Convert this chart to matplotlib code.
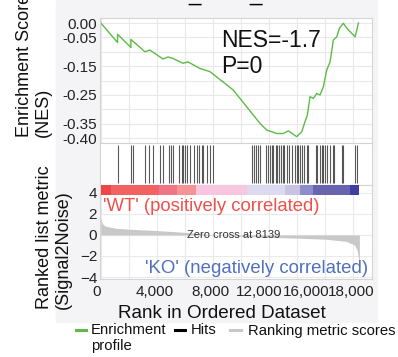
import matplotlib
matplotlib.use('Agg')
import matplotlib.pyplot as plt
import matplotlib.transforms as mtransforms
from matplotlib.lines import Line2D
from matplotlib.patches import Rectangle

plt.rcParams['font.family'] = ['Liberation Sans', 'DejaVu Sans']

# running enrichment score
es_rank = [0, 1193, 1193, 2143, 2143, 2800, 3143, 3500, 4430, 4800, 5143, 5857,
           6214, 7071, 7786, 9450, 11357, 11836, 12550, 13021, 13380, 13979,
           14336, 14571, 14736, 14929, 15164, 15407, 15643, 15879, 16121, 16357,
           16593, 16836, 17021, 17307, 17550, 18143, 18264, 18380]
es_value = [0.0, -0.068, -0.039, -0.085, -0.057, -0.085, -0.100, -0.094, -0.125,
            -0.118, -0.123, -0.140, -0.135, -0.158, -0.169, -0.233, -0.349, -0.372,
            -0.384, -0.384, -0.375, -0.395, -0.378, -0.343, -0.320, -0.256, -0.262,
            -0.245, -0.250, -0.222, -0.163, -0.135, -0.059, -0.048, -0.018, -0.001,
            -0.018, -0.048, -0.025, 0.0]

# positions of the gene set members in the ranked list
hit_ranks = [1193, 2121, 2264, 3143, 3429, 3693, 4214, 4407, 4879, 5000, 5121,
             5593, 5764, 5879, 6000, 6164, 6357, 6664, 6836, 7021, 7193, 7307,
             7550, 7786, 7979, 10807, 10929, 11050, 11236, 11357, 11786, 11907,
             12071, 12193, 12307, 12479, 12593, 12736, 12836, 12979, 13093, 13264,
             13450, 13621, 13857, 13979, 14093, 14214, 14336, 14521, 14693, 14807,
             15336, 15450, 15643, 15764, 15879, 16000, 16164, 16357, 16550, 16664,
             17193, 17307, 18143, 18307]

# ranked list metric (signal2noise)
metric_rank = [0, 100, 300, 1000, 2000, 4000, 6000, 8139, 10000, 12000, 14000,
               16000, 17500, 18100, 18300, 18420, 18450]
metric_value = [1.7, 1.1, 0.85, 0.65, 0.55, 0.42, 0.25, 0.0, -0.12, -0.22, -0.30,
                -0.40, -0.60, -0.95, -1.5, -2.5, -2.5]

# colour blocks along the ranked list
band_start = [0, 693, 4143, 5407, 6786, 10407, 13143, 14214, 15164, 17786]
band_end = [693, 4143, 5407, 6786, 10407, 13143, 14214, 15164, 17786, 18450]
band_color = ['#ee4646', '#f26262', '#f07686', '#f49494', '#f8c6de',
              '#dcdaee', '#c9c3e3', '#8d8dc9', '#6a63b0', '#3d3fa2']

zero_cross = 8139
nes_label = 'NES=-1.7'
p_label = 'P=0'

es_ticks = [0.0, -0.05, -0.10, -0.15, -0.20, -0.25, -0.30, -0.35, -0.40]
es_ticklabels = ['0.00', '-0.05', '', '-0.15', '', '-0.25', '', '-0.35', '-0.40']
rank_ticks = [0, 2000, 4000, 6000, 8000, 10000, 12000, 14000, 16000, 18000]
rank_ticklabels = ['0', '', '4,000', '', '8,000', '', '12,000', '', '16,000', '18,000']
# the labels are nudged left in the original so they don't collide
rank_label_shift = [-4, 0, -2, 0, -3, 0, -10, 0, -19, -2]
metric_ticks = [4, 2, 0, -2, -4]

W, H = 398, 357
fig = plt.figure(figsize=(W / 100, H / 100), dpi=100)
fig.patch.set_facecolor('white')


def fx(px):
    return px / W


def fy(py):
    return 1 - py / H


# light grey plotting background
fig.add_artist(Rectangle((fx(56), fy(322)), 321 / W, 322 / H,
                         transform=fig.transFigure, color='#f4f4f6', zorder=-5))

ax_es = fig.add_axes([fx(100), fy(143), 272 / W, 125 / H])
ax_hit = fig.add_axes([fx(100), fy(185), 272 / W, 42 / H], sharex=ax_es)
ax_rk = fig.add_axes([fx(100), fy(279), 272 / W, 94 / H], sharex=ax_es)

for ax in (ax_es, ax_hit, ax_rk):
    ax.set_facecolor('white')
    for s in ax.spines.values():
        s.set_color('#d4d4d4')
        s.set_linewidth(0.8)
    ax.tick_params(length=0, labelsize=11, colors='#222222', pad=2)

ax_es.set_xlim(-60, 19350)

# enrichment score panel
ax_es.plot(es_rank, es_value, color='#5dbb46', lw=1.0)
ax_es.set_ylim(-0.417, 0.0174)
ax_es.set_yticks(es_ticks)
ax_es.set_yticklabels(es_ticklabels)
ax_es.set_xticks(rank_ticks)
ax_es.grid(True, color='#e8e8e8', lw=0.8)
ax_es.set_axisbelow(True)
ax_es.tick_params(labelbottom=False)
ax_es.text(0.444, 0.768, nes_label, transform=ax_es.transAxes, fontsize=16.5,
           va='baseline', ha='left', color='#111111')
ax_es.text(0.444, 0.56, p_label, transform=ax_es.transAxes, fontsize=16.5,
           va='baseline', ha='left', color='#111111')

# hits panel
ax_hit.vlines(hit_ranks, 0, 1, color='black', lw=0.8, alpha=0.65)
ax_hit.set_ylim(-0.05, 1.05)
ax_hit.set_yticks([])
ax_hit.tick_params(labelbottom=False)

# ranked metric panel
ax_rk.fill_between(metric_rank, metric_value, 0, color='#c8c8c8', lw=0)
widths = [e - s for s, e in zip(band_start, band_end)]
ax_rk.bar(band_start, 0.95, width=widths, bottom=3.81, align='edge',
          color=band_color, lw=0, zorder=3)
ax_rk.set_ylim(-4.19, 4.76)
ax_rk.set_yticks(metric_ticks)
ax_rk.set_xticks(rank_ticks)
ax_rk.set_xticklabels(rank_ticklabels)
ax_rk.tick_params(axis='x', pad=4.5)
for lab, dx in zip(ax_rk.get_xticklabels(), rank_label_shift):
    lab.set_transform(lab.get_transform() +
                      mtransforms.ScaledTranslation(dx / 100, 0, fig.dpi_scale_trans))
ax_rk.grid(True, color='#eaeaea', lw=0.8)
ax_rk.set_axisbelow(True)
ax_rk.text(zero_cross + 1340, 0, 'Zero cross at %d' % zero_cross, fontsize=8,
           ha='center', va='center', color='#333333')
ax_rk.text(0.01, 0.727, "'WT' (positively correlated)", transform=ax_rk.transAxes,
           fontsize=13.3, color='#f0504a', va='baseline', ha='left')
ax_rk.text(0.984, 0.061, "'KO' (negatively correlated)", transform=ax_rk.transAxes,
           fontsize=13.4, color='#5070c0', va='baseline', ha='right')

# axis labels
fig.text(fx(34), fy(137), 'Enrichment Score\n(NES)', rotation=90, fontsize=13,
         ha='center', va='bottom', multialignment='left', color='#111111')
fig.text(fx(54), fy(309), 'Ranked list metric\n(Signal2Noise)', rotation=90,
         fontsize=13, ha='center', va='bottom', multialignment='left',
         color='#111111')
fig.text(fx(222), fy(318), 'Rank in Ordered Dataset', fontsize=13.6,
         ha='center', va='baseline', color='#111111')

# cut-off title (only the underscores reach into the picture)
fig.text(fx(195), fy(0.5), '_', fontsize=16, ha='center', va='baseline')
fig.text(fx(256), fy(0.5), '_', fontsize=16, ha='center', va='baseline')

# legend
legend_items = [(76, 86, 91, '#5dbb46', 'Enrichment\nprofile'),
                (175, 185, 191, 'black', 'Hits'),
                (230, 241, 248, '#c8c8c8', 'Ranking metric scores')]
for x0, x1, xt, c, lab in legend_items:
    fig.add_artist(Line2D([fx(x0), fx(x1)], [fy(330), fy(330)],
                          transform=fig.transFigure, color=c, lw=2.2))
    fig.text(fx(xt), fy(323.5), lab, fontsize=10.7, ha='left', va='top',
             color='#111111', linespacing=1.12)

fig.savefig('out.png', dpi=100)
